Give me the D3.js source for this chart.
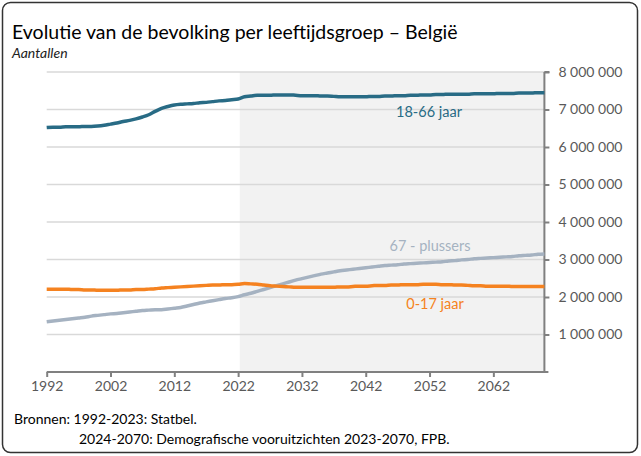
<!DOCTYPE html>
<html>
<head>
<meta charset="utf-8">
<script src="https://cdn.jsdelivr.net/npm/d3@7"></script>
<style>
  body { margin: 0; background: #fff; }
  svg { display: block; font-family: Lato, "Open Sans", sans-serif; }
</style>
</head>
<body>
<script>
// jaren 1992 - 2070
const years = d3.range(1992, 2071)

// 18-66 jaar (miljoen)
const adults = [6.52, 6.53, 6.53, 6.54, 6.54, 6.54, 6.55, 6.55, 6.56, 6.58,
  6.61, 6.64, 6.68, 6.71, 6.75, 6.80, 6.86, 6.95, 7.03, 7.08,
  7.12, 7.14, 7.15, 7.16, 7.18, 7.19, 7.21, 7.23, 7.24, 7.26,
  7.28, 7.34, 7.36, 7.38, 7.38, 7.38, 7.39, 7.39, 7.39, 7.38,
  7.37, 7.37, 7.37, 7.36, 7.36, 7.35, 7.34, 7.34, 7.34, 7.34,
  7.34, 7.35, 7.35, 7.36, 7.36, 7.37, 7.37, 7.38, 7.38, 7.39,
  7.39, 7.40, 7.40, 7.41, 7.41, 7.41, 7.41, 7.42, 7.42, 7.42,
  7.42, 7.43, 7.43, 7.43, 7.44, 7.44, 7.44, 7.45, 7.45]

// 0-17 jaar
const youth = [2.21, 2.21, 2.21, 2.21, 2.20, 2.20, 2.19, 2.19, 2.18, 2.18,
  2.18, 2.18, 2.19, 2.19, 2.20, 2.20, 2.21, 2.22, 2.24, 2.25,
  2.26, 2.27, 2.28, 2.29, 2.30, 2.31, 2.32, 2.32, 2.33, 2.33,
  2.34, 2.36, 2.35, 2.34, 2.32, 2.30, 2.29, 2.28, 2.27, 2.26,
  2.26, 2.26, 2.26, 2.26, 2.26, 2.26, 2.27, 2.27, 2.28, 2.29,
  2.29, 2.30, 2.31, 2.31, 2.32, 2.32, 2.33, 2.33, 2.33, 2.34,
  2.34, 2.34, 2.33, 2.33, 2.32, 2.32, 2.31, 2.30, 2.30, 2.29,
  2.29, 2.29, 2.29, 2.28, 2.28, 2.28, 2.28, 2.28, 2.28]

// 67 - plussers
const seniors = [1.34, 1.36, 1.38, 1.40, 1.42, 1.44, 1.46, 1.49, 1.51, 1.53,
  1.55, 1.56, 1.58, 1.60, 1.62, 1.64, 1.65, 1.66, 1.66, 1.68,
  1.70, 1.72, 1.76, 1.80, 1.84, 1.87, 1.90, 1.93, 1.96, 1.98,
  2.01, 2.06, 2.10, 2.15, 2.20, 2.25, 2.30, 2.35, 2.40, 2.45,
  2.49, 2.53, 2.57, 2.61, 2.64, 2.67, 2.70, 2.72, 2.74, 2.76,
  2.78, 2.80, 2.82, 2.84, 2.85, 2.86, 2.88, 2.89, 2.90, 2.91,
  2.92, 2.93, 2.94, 2.96, 2.97, 2.99, 3.00, 3.02, 3.03, 3.04,
  3.05, 3.06, 3.07, 3.08, 3.10, 3.11, 3.12, 3.14, 3.15]

const yTicks = [1000000, 2000000, 3000000, 4000000, 5000000, 6000000, 7000000, 8000000]
const xTicks = [1992, 2002, 2012, 2022, 2032, 2042, 2052, 2062]
const projStart = 2022.25

const series = [
  { name: '18-66 jaar', values: adults, color: '#286b85', lx: 429, ly: 111 },
  { name: '67 - plussers', values: seniors, color: '#a5b2c1', lx: 430, ly: 245 },
  { name: '0-17 jaar', values: youth, color: '#f58220', lx: 435, ly: 303 }
]

const W = 641, H = 456
const svg = d3.select('body').append('svg').attr('width', W).attr('height', H)

const x = d3.scaleLinear().domain([1992, 2070]).range([46.7, 544.4])
const y = d3.scaleLinear().domain([0, 8000000]).range([372, 72])

// kader
svg.append('rect')
  .attr('x', 2.5).attr('y', 2.5).attr('width', 635).attr('height', 450)
  .attr('rx', 8).attr('fill', 'none').attr('stroke', '#333').attr('stroke-width', 1.5)

svg.append('text').attr('x', 12).attr('y', 39)
  .attr('font-size', 19.5).attr('fill', '#000')
  .text('Evolutie van de bevolking per leeftijdsgroep – België')
svg.append('text').attr('x', 12).attr('y', 58)
  .attr('font-size', 14).attr('font-style', 'italic').attr('fill', '#222')
  .text('Aantallen')

// projectie
svg.append('rect')
  .attr('x', x(projStart)).attr('y', y(8000000))
  .attr('width', x(2070) - x(projStart)).attr('height', y(0) - y(8000000))
  .attr('fill', '#f2f2f2')

// rasterlijnen
svg.append('g').selectAll('line').data(yTicks).join('line')
  .attr('x1', x(1992)).attr('x2', x(2070))
  .attr('y1', d => y(d)).attr('y2', d => y(d))
  .attr('stroke', '#d9d9d9').attr('stroke-width', 1.5)

// y-as rechts
const yAxis = svg.append('g').attr('transform', 'translate(' + x(2070) + ',0)')
  .call(d3.axisRight(y).tickValues(yTicks).tickSize(5).tickPadding(9)
    .tickFormat(d => d3.format(',')(d).replace(/,/g, ' ')))
yAxis.select('.domain').attr('d', 'M0,' + y(8000000) + 'V' + y(0) + 'M0,' + y(8000000) + 'h5')
yAxis.selectAll('path, line').attr('stroke', '#808080').attr('stroke-width', 2)
yAxis.selectAll('text').attr('font-size', 14).attr('fill', '#595959').attr('font-family', 'Lato')

// x-as
const xAxis = svg.append('g').attr('transform', 'translate(0,' + y(0) + ')')
  .call(d3.axisBottom(x).tickValues(xTicks).tickSize(5).tickPadding(4).tickFormat(d3.format('d')))
xAxis.select('.domain').attr('d', 'M' + x(1992) + ',0H' + (x(2070) + 4))
xAxis.selectAll('path, line').attr('stroke', '#808080').attr('stroke-width', 2)
xAxis.selectAll('text').attr('font-size', 14).attr('fill', '#595959').attr('font-family', 'Lato')

// lijnen
const line = d3.line().x((d, i) => x(years[i])).y(d => y(d * 1000000)).curve(d3.curveMonotoneX)
series.forEach(s => {
  svg.append('path').datum(s.values)
    .attr('d', line).attr('fill', 'none')
    .attr('stroke', s.color).attr('stroke-width', 3.5)
    .attr('stroke-linejoin', 'round')
  svg.append('text').attr('x', s.lx).attr('y', s.ly)
    .attr('text-anchor', 'middle').attr('dominant-baseline', 'central')
    .attr('font-size', 14.5).attr('fill', s.color)
    .text(s.name)
})

// bronnen
svg.append('text').attr('x', 14).attr('y', 424)
  .attr('font-size', 14).attr('fill', '#000')
  .text('Bronnen: 1992-2023: Statbel.')
svg.append('text').attr('x', 79).attr('y', 444)
  .attr('font-size', 14).attr('fill', '#000')
  .text('2024-2070: Demografische vooruitzichten 2023-2070, FPB.')
</script>
</body>
</html>
